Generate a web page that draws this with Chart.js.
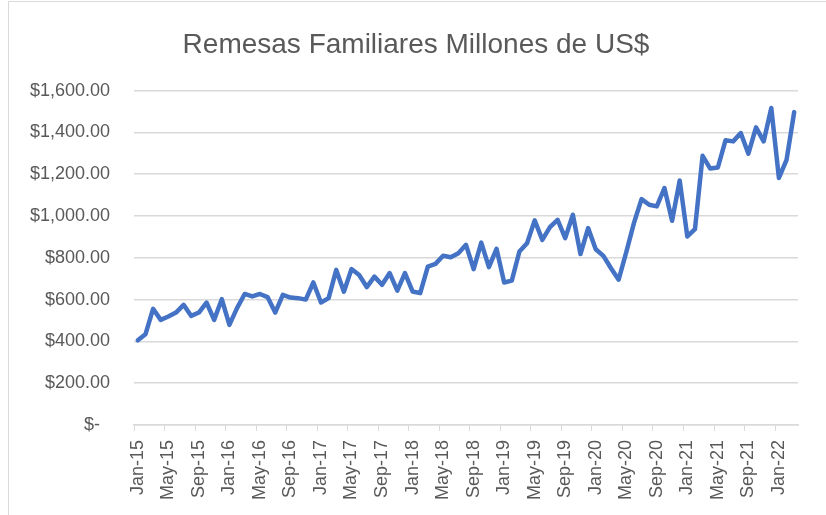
<!DOCTYPE html>
<html>
<head>
<meta charset="utf-8">
<script src="https://cdn.jsdelivr.net/npm/chart.js@4/dist/chart.umd.min.js"></script>
<style>
  html, body { margin: 0; padding: 0; background: #ffffff; }
  #wrap { position: relative; width: 826px; height: 515px; }
</style>
</head>
<body>
<div id="wrap"><canvas id="c" width="826" height="515"></canvas></div>
<script>
const chartTitle = "Remesas Familiares Millones de US$";
const monthNames = ["Jan","Feb","Mar","Apr","May","Jun","Jul","Aug","Sep","Oct","Nov","Dec"];
const years = ["15","16","17","18","19","20","21","22"];
const categories = [];
years.forEach(y => monthNames.forEach(m => categories.push(m + "-" + y)));
categories.length = 87; // Jan-15 .. Mar-22

const remesas = [
  405, 434, 556, 503, 519, 538, 575, 522, 538, 586, 503, 602,
  479, 559, 627, 615, 627, 612, 538, 623, 610, 607, 600, 682,
  586, 607, 742, 638, 746, 718, 660, 710, 671, 727, 643, 727,
  639, 631, 758, 771, 810, 803, 822, 862, 746, 873, 755, 843,
  682, 691, 830, 870, 979, 886, 947, 982, 894, 1006, 818, 942,
  841, 809, 750, 695, 827, 966, 1081, 1054, 1046, 1134, 977, 1170,
  902, 937, 1288, 1227, 1232, 1362, 1357, 1397, 1298, 1424, 1357, 1517,
  1182, 1269, 1497
];
const yTicks = [0, 200, 400, 600, 800, 1000, 1200, 1400, 1600];

function fmtMoney(v) {
  if (v === 0) return "$-\u00a0\u00a0";
  return "$" + v.toLocaleString("en-US", { minimumFractionDigits: 2, maximumFractionDigits: 2 });
}

const frame = {
  id: "frame",
  beforeDraw(chart) {
    const ctx = chart.ctx;
    ctx.save();
    ctx.fillStyle = "#ffffff";
    ctx.fillRect(0, 0, chart.width, chart.height);
    ctx.strokeStyle = "#d9d9d9";
    ctx.lineWidth = 1;
    ctx.beginPath();
    ctx.moveTo(8.5, chart.height);
    ctx.lineTo(8.5, 1.5);
    ctx.lineTo(chart.width, 1.5);
    ctx.stroke();
    ctx.restore();
  }
};

const FONT = "'Liberation Sans', 'Open Sans', sans-serif";

new Chart(document.getElementById("c"), {
  type: "line",
  data: {
    labels: categories,
    datasets: [{
      data: remesas,
      borderColor: "#4472C4",
      borderWidth: 4.5,
      pointRadius: 0,
      pointHoverRadius: 0,
      tension: 0,
      fill: false,
      borderJoinStyle: "round",
      borderCapStyle: "round"
    }]
  },
  options: {
    responsive: false,
    animation: false,
    events: [],
    layout: { padding: { left: 6, right: 0, top: 0, bottom: 0 } },
    plugins: {
      legend: { display: false },
      tooltip: { enabled: false },
      title: {
        display: true,
        text: chartTitle,
        color: "#595959",
        font: { family: FONT, size: 28, weight: "normal", lineHeight: 1.2 },
        padding: { top: 28, bottom: 29 }
      }
    },
    scales: {
      x: {
        type: "category",
        offset: true,
        afterFit(scale) { scale.height = 90; },
        grid: {
          offset: true,
          drawOnChartArea: false,
          drawTicks: true,
          tickLength: 6,
          tickWidth: 1,
          tickColor: (ctx) => (ctx.index % 4 === 0 ? "#d9d9d9" : "rgba(0,0,0,0)")
        },
        border: { display: true, color: "#d9d9d9", width: 1.5 },
        ticks: {
          autoSkip: false,
          maxRotation: 90,
          minRotation: 90,
          padding: 9,
          color: "#595959",
          font: { family: FONT, size: 18 },
          callback: function(value, index) { return index % 4 === 0 ? categories[index] : ""; }
        }
      },
      y: {
        min: 0,
        max: 1600,
        afterFit(scale) { scale.width = 128; },
        afterBuildTicks(scale) { scale.ticks = yTicks.map(v => ({ value: v })); },
        grid: { color: "#d9d9d9", lineWidth: 1.5, drawTicks: false },
        border: { display: false },
        ticks: {
          padding: 24,
          color: "#595959",
          font: { family: FONT, size: 18 },
          callback: (v) => fmtMoney(v)
        }
      },
      yRight: {
        position: "right",
        display: true,
        min: 0,
        max: 1600,
        afterFit(scale) { scale.width = 28; },
        grid: { display: false, drawTicks: false },
        border: { display: false },
        ticks: { display: false }
      }
    }
  },
  plugins: [frame]
});
</script>
</body>
</html>
